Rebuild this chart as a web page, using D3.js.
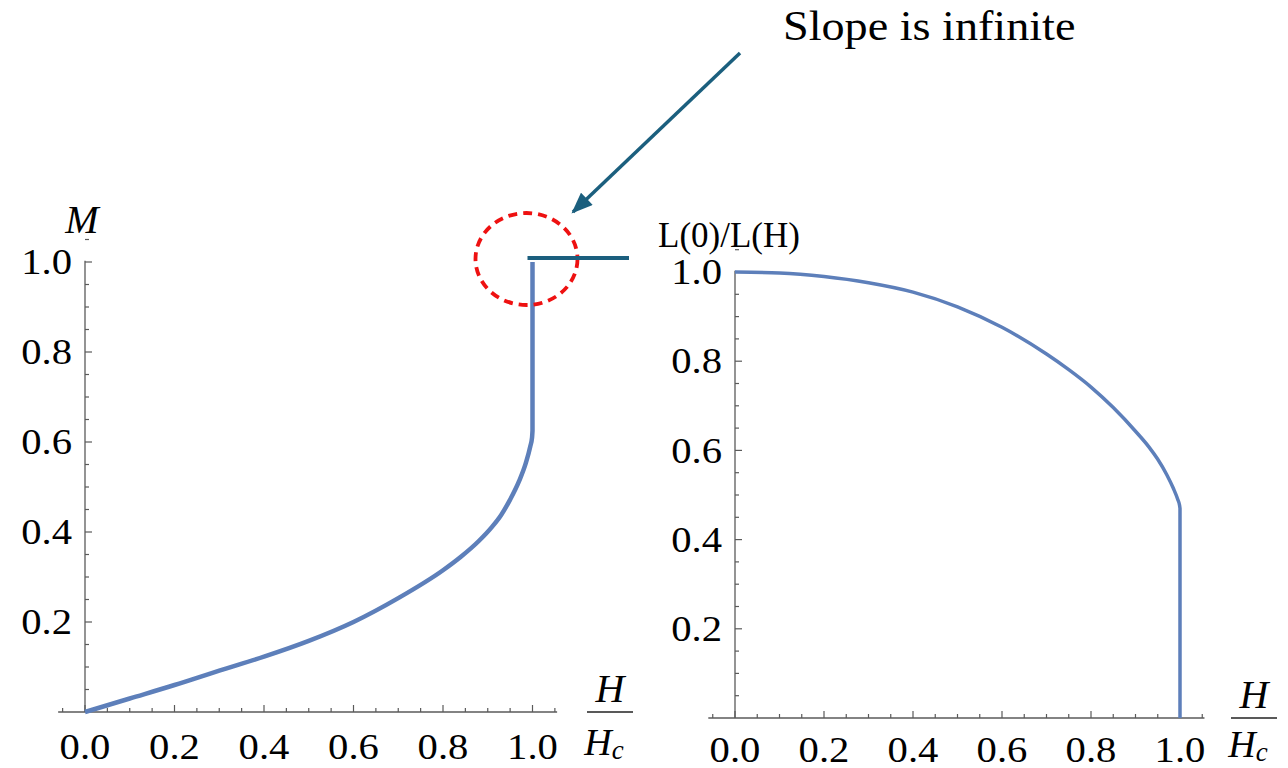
<!DOCTYPE html>
<html>
<head>
<meta charset="utf-8">
<script src="https://cdn.jsdelivr.net/npm/d3@7"></script>
<style>
  html, body { margin: 0; padding: 0; background: #fff; }
  svg { display: block; }
</style>
</head>
<body>
<svg id="chart" width="1288" height="768"></svg>
<script>
// Magnetization M against reduced field H/Hc
const magField = [0, 0.1, 0.2, 0.3, 0.4, 0.5, 0.6, 0.7, 0.8, 0.84, 0.88, 0.91, 0.93, 0.95, 0.97, 0.985, 0.995, 0.999, 1.0, 1.0];
const magValue = [0, 0.03, 0.06, 0.092, 0.123, 0.158, 0.2, 0.253, 0.315, 0.345, 0.38, 0.412, 0.438, 0.472, 0.513, 0.553, 0.59, 0.61, 0.625, 1.0];

// Length ratio L(0)/L(H) against reduced field H/Hc
const lenField = [0, 0.1, 0.2, 0.3, 0.4, 0.5, 0.6, 0.7, 0.75, 0.8, 0.85, 0.9, 0.93, 0.95, 0.97, 0.985, 0.995, 0.999, 1.0, 1.0];
const lenValue = [1.0, 0.998, 0.99, 0.976, 0.955, 0.922, 0.876, 0.816, 0.781, 0.742, 0.696, 0.643, 0.608, 0.58, 0.546, 0.515, 0.49, 0.477, 0.47, 0.0];

const majorTicks = [0, 0.2, 0.4, 0.6, 0.8, 1.0];
const tickLabels = ["0.0", "0.2", "0.4", "0.6", "0.8", "1.0"];
const minorTicks = d3.range(-1, 22).map(i => i * 0.05).filter(v => v <= 1.051);

const calloutText = "Slope is infinite";

const svg = d3.select("#chart");
const serif = "'Liberation Serif', 'Times New Roman', serif";
const curveColor = "#5d7fba";
const axisColor = "#5a5a5a";

function label(g, x, y, str, opts = {}) {
  const t = g.append("text")
    .attr("transform", `translate(${x},${y}) scale(${opts.sx || 1},1)`)
    .attr("font-family", serif)
    .attr("font-size", opts.size || 36)
    .attr("fill", "#000")
    .attr("text-anchor", opts.anchor || "middle")
    .attr("dominant-baseline", opts.baseline || "alphabetic")
    .attr("font-style", opts.italic ? "italic" : "normal")
    .text(str);
  return t;
}

function panel(cfg) {
  const g = svg.append("g");
  const x = d3.scaleLinear().domain([0, 1]).range([cfg.x0, cfg.x1]);
  const y = d3.scaleLinear().domain([0, 1]).range([cfg.y0, cfg.y1]);

  // x axis line and inward ticks
  g.append("line")
    .attr("x1", x(-0.06)).attr("x2", x(1.055))
    .attr("y1", y(0)).attr("y2", y(0))
    .attr("stroke", axisColor).attr("stroke-width", 1.3);
  g.selectAll(".xt").data(minorTicks).join("line")
    .attr("x1", d => x(d)).attr("x2", d => x(d))
    .attr("y1", y(0))
    .attr("y2", d => y(0) - (majorTicks.some(m => Math.abs(m - d) < 1e-6) ? 7 : 4))
    .attr("stroke", axisColor).attr("stroke-width", 1.2);

  // y axis line and inward ticks
  g.append("line")
    .attr("x1", x(0)).attr("x2", x(0))
    .attr("y1", y(0)).attr("y2", y(1.003))
    .attr("stroke", axisColor).attr("stroke-width", 1.3);
  g.selectAll(".yt").data(minorTicks.filter(d => d > 0)).join("line")
    .attr("y1", d => y(d)).attr("y2", d => y(d))
    .attr("x1", x(0))
    .attr("x2", d => x(0) + (majorTicks.some(m => Math.abs(m - d) < 1e-6) ? 7 : 4))
    .attr("stroke", axisColor).attr("stroke-width", 1.2);

  // tick labels
  majorTicks.forEach((v, i) => {
    label(g, x(v), y(0) + cfg.xLabelDy, tickLabels[i], { sx: 1.13 });
    if (v > 0) {
      label(g, x(0) - cfg.yLabelDx, y(v), tickLabels[i], { sx: 1.13, anchor: "end", baseline: "central" });
    }
  });

  // H / Hc fraction
  const fx = cfg.fracX, fy = y(0);
  label(g, fx, fy - 10, "H", { italic: true, size: 40 });
  g.append("line")
    .attr("x1", fx - 23).attr("x2", fx + 23)
    .attr("y1", fy).attr("y2", fy)
    .attr("stroke", "#222").attr("stroke-width", 1.6);
  const hc = label(g, fx - 6, fy + cfg.hcDy, "H", { italic: true, size: 38 });
  hc.append("tspan").attr("font-size", 27).attr("dy", 4).text("c");

  // data curve: smooth through the readings, then the final straight jump at H = Hc
  const pts = cfg.hx.map((h, i) => [h, cfg.vy[i]]);
  const smooth = d3.line()
    .x(d => x(d[0])).y(d => y(d[1]))
    .curve(d3.curveMonotoneX);
  const last = pts[pts.length - 1];
  g.append("path")
    .attr("d", smooth(pts.slice(0, -1)) + `L${x(last[0])},${y(last[1])}`)
    .attr("fill", "none")
    .attr("stroke", curveColor)
    .attr("stroke-width", cfg.lw)
    .attr("stroke-linejoin", "round");

  return { g, x, y };
}

const left = panel({ x0: 85, x1: 532.5, y0: 712, y1: 262, xLabelDy: 47, yLabelDx: 13,
  fracX: 610, hcDy: 43, hx: magField, vy: magValue, lw: 4.5 });
const right = panel({ x0: 735, x1: 1180, y0: 718, y1: 272, xLabelDy: 44, yLabelDx: 13,
  fracX: 1254, hcDy: 39, hx: lenField, vy: lenValue, lw: 3.5 });

// axis titles
label(left.g, 82, 233, "M", { italic: true, size: 40 });
label(right.g, 658, 247, "L(0)/L(H)", { anchor: "start", size: 35 });

// callout: marks the point where the magnetization curve turns vertical
const ann = svg.append("g");
ann.append("ellipse")
  .attr("cx", left.x(1.0) - 6).attr("cy", left.y(1.0) - 3)
  .attr("rx", 51).attr("ry", 46)
  .attr("fill", "none").attr("stroke", "#ee1111")
  .attr("stroke-width", 3.8).attr("stroke-dasharray", "9,6");
ann.append("line")
  .attr("x1", left.x(1.0) - 5).attr("x2", 629)
  .attr("y1", left.y(1.0) - 4).attr("y2", left.y(1.0) - 4)
  .attr("stroke", "#1b5f7e").attr("stroke-width", 4);

const defs = svg.append("defs");
defs.append("marker")
  .attr("id", "head").attr("markerUnits", "userSpaceOnUse")
  .attr("viewBox", "0 0 20 16").attr("refX", 18).attr("refY", 8)
  .attr("markerWidth", 22).attr("markerHeight", 17).attr("orient", "auto")
  .append("path").attr("d", "M0,0 L20,8 L0,16 Z").attr("fill", "#1b5f7e");
ann.append("line")
  .attr("x1", 740).attr("y1", 53).attr("x2", 573).attr("y2", 212)
  .attr("stroke", "#1b5f7e").attr("stroke-width", 3.5)
  .attr("marker-end", "url(#head)");

label(ann, 783, 40, calloutText, { anchor: "start", size: 42, sx: 1.1 });
</script>
</body>
</html>
